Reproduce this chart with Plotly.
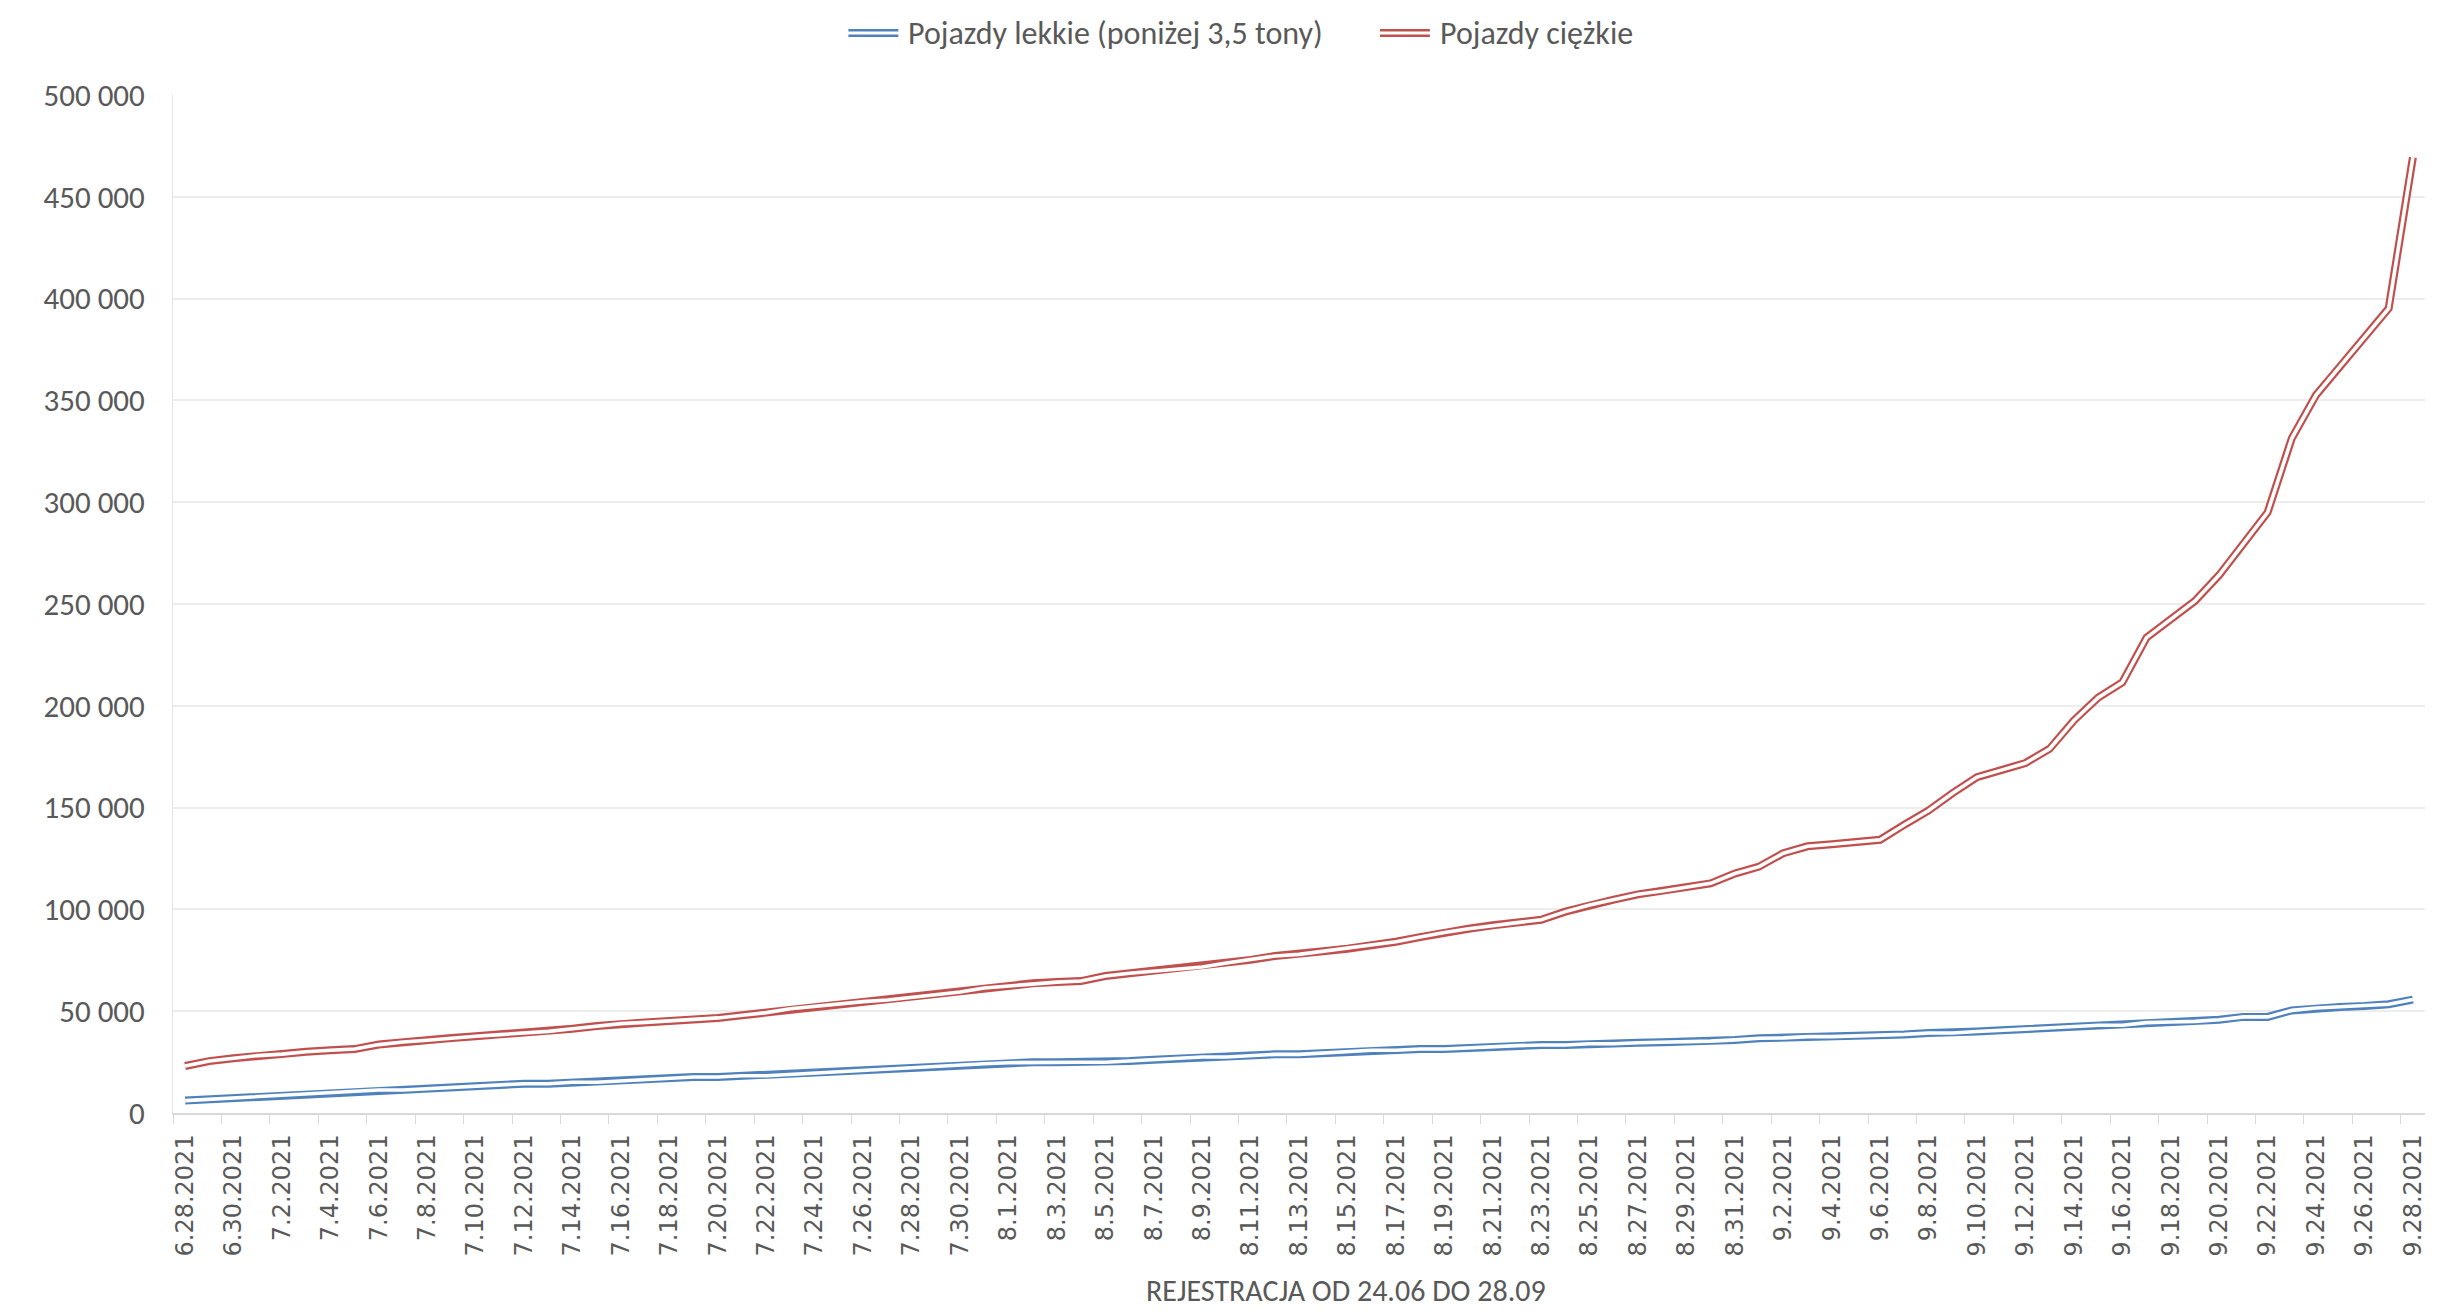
import plotly.graph_objects as go

# ---------------- data ----------------
dates = ([f"6.{d}.2021" for d in range(28, 31)] +
         [f"7.{d}.2021" for d in range(1, 32)] +
         [f"8.{d}.2021" for d in range(1, 32)] +
         [f"9.{d}.2021" for d in range(1, 29)])

light = [6100, 6700, 7400, 8000, 8700, 9300, 10000, 10600, 11300, 11300,
         12000, 12600, 13300, 13900, 14400, 14400, 15100, 15100, 15700, 16400,
         17000, 17700, 17700, 18300, 18300, 19000, 19600, 20300, 21000, 21600,
         22300, 22900, 23600, 24200, 24700, 24900, 24900, 24900, 24900, 25500,
         26200, 26800, 27500, 27500, 28200, 28800, 28800, 29500, 30100, 30800,
         30800, 31400, 31400, 32100, 32600, 33100, 33400, 33400, 34000, 34000,
         34500, 34700, 34900, 35300, 35900, 36700, 36900, 37500, 37500, 37800,
         38200, 38600, 39300, 39300, 40000, 40600, 41100, 41800, 42400, 43100,
         43100, 44400, 44700, 45000, 45800, 47200, 47200, 50400, 51600, 52100,
         52600, 53400, 55700]

heavy = [23100, 25500, 26900, 28200, 28900, 30100, 30800, 31400, 33600, 34900,
         35700, 36800, 37700, 38500, 39300, 40100, 41400, 42700, 43900, 44500,
         45200, 45800, 46700, 48000, 49300, 51200, 52400, 53500, 54700, 55500,
         56700, 58100, 59400, 61400, 62400, 63700, 64300, 64800, 67300, 68600,
         69600, 70600, 71700, 73700, 75200, 77100, 77900, 79400, 80700, 82200,
         84100, 86400, 88700, 90500, 92200, 93500, 94900, 98900, 102200, 104800,
         107400, 109000, 110700, 112800, 117600, 121000, 127600, 131000, 132000, 133000,
         134200, 141600, 148600, 157200, 165000, 168400, 171900, 178900, 192800, 204000,
         211500, 233500, 242300, 251500, 264200, 279600, 295000, 331400, 352600, 366800,
         381000, 395200, 469400]

series_names = ["Pojazdy lekkie (poniżej 3,5 tony)", "Pojazdy ciężkie"]
series_colors = ["#4F81BD", "#C0504D"]
y_ticks = [0, 50000, 100000, 150000, 200000, 250000, 300000, 350000, 400000, 450000, 500000]
y_ticktext = ["0", "50 000", "100 000", "150 000", "200 000", "250 000",
              "300 000", "350 000", "400 000", "450 000", "500 000"]
x_title = "REJESTRACJA OD 24.06 DO 28.09"

# ---------------- layout constants (window pixels) ----------------
OFF = 8                      # page body margin
WIN_W, WIN_H = 2439, 1316
W, H = WIN_W - OFF, WIN_H - OFF
PL, PR, PT, PB = 173, 2427, 95, 1113      # plot area in window pixels
ML, MT = PL - OFF, PT - OFF
MR, MB = W - (PR - OFF), H - (PB - OFF)
PW, PH = PR - PL, PB - PT
TXT = "#595959"
FONT_C = "Carlito, Calibri, 'Liberation Sans Narrow', Lato, sans-serif"
FONT_D = "'DejaVu Sans', Verdana, sans-serif"


def px_x(px):
    return (px - PL) / PW


def px_y(py):
    return (PB - py) / PH


x = list(range(len(dates)))

fig = go.Figure()
for vals, name, col in zip([light, heavy], series_names, series_colors):
    fig.add_trace(go.Scatter(x=x, y=vals, mode="lines", name=name,
                             line=dict(color=col, width=8), showlegend=False,
                             hoverinfo="skip"))
    fig.add_trace(go.Scatter(x=x, y=vals, mode="lines", name=name,
                             line=dict(color="white", width=3.6), showlegend=False,
                             hovertemplate="%{y}<extra>" + name + "</extra>"))

tickvals = x[::2]
ticktext = dates[::2]

fig.update_xaxes(
    range=[-0.5, len(dates) - 0.5],
    tickmode="array", tickvals=tickvals, ticktext=ticktext,
    tickangle=-90, ticks="", showgrid=False, zeroline=False,
    showline=True, linecolor="#D9D9D9", linewidth=1.5,
    tickfont=dict(family=FONT_D, size=24, color=TXT),
    ticklabelstandoff=10,
    minor=dict(tickmode="array", tickvals=[v - 0.5 for v in x[::2]],
               ticks="outside", ticklen=9, tickcolor="#D9D9D9", tickwidth=1,
               showgrid=False),
)
fig.update_yaxes(
    range=[0, 500000], tickmode="array", tickvals=y_ticks, ticktext=y_ticktext,
    showgrid=True, gridcolor="#EDEDED", gridwidth=1.5, zeroline=False,
    showline=True, linecolor="#E3E3E3", linewidth=1, ticks="",
    tickfont=dict(family=FONT_C, size=31, color=TXT),
    ticklabelstandoff=21,
)

# legend drawn manually (double-line symbols)
shapes = []
annotations = []
leg_items = [(849, 899, 907), (1381, 1431, 1439)]
for (x0, x1, xt), name, col in zip(leg_items, series_names, series_colors):
    for dy in (-2.8, 2.8):
        shapes.append(dict(type="line", xref="paper", yref="paper",
                           x0=px_x(x0), x1=px_x(x1), y0=px_y(33 + dy), y1=px_y(33 + dy),
                           line=dict(color=col, width=2.4)))
    annotations.append(dict(text=name, xref="paper", yref="paper",
                            x=px_x(xt), y=px_y(33), xanchor="left", yanchor="middle",
                            showarrow=False, font=dict(family=FONT_C, size=32, color=TXT)))

annotations.append(dict(text=x_title, xref="paper", yref="paper",
                        x=px_x(1347), y=px_y(1290), xanchor="center", yanchor="middle",
                        showarrow=False, font=dict(family=FONT_C, size=30, color=TXT)))

fig.update_layout(
    width=W, height=H,
    margin=dict(l=ML, r=MR, t=MT, b=MB),
    paper_bgcolor="white", plot_bgcolor="white",
    showlegend=False,
    shapes=shapes, annotations=annotations,
)

fig.write_html("out.html")
